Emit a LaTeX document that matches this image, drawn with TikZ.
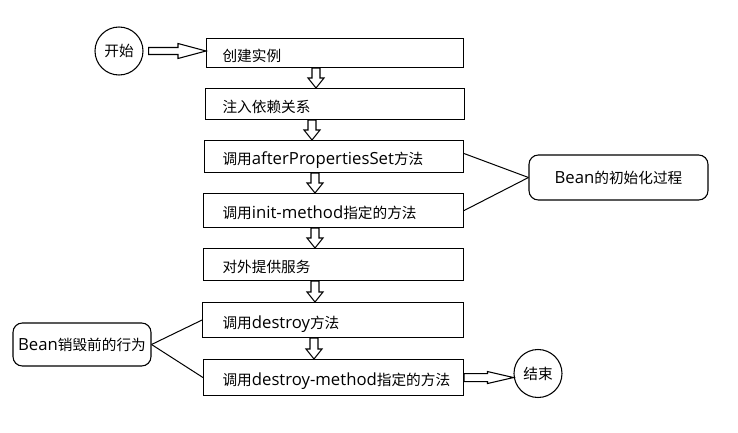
\documentclass[tikz,border=0pt]{standalone}
\usepackage{fontspec}
\setmainfont{Noto Sans CJK SC}
\newfontfamily\lat[Scale=1.14]{Open Sans}
\usetikzlibrary{calc}
\tikzset{
  txt/.style={font=\fontsize{11}{13}\selectfont},
  stepbox/.style={draw, line width=0.8pt, rectangle, anchor=north west, align=left,
    inner ysep=0pt, text height=12pt, text depth=0pt, txt},
  blockarrow/.style={draw, line width=0.8pt, fill=white, line join=miter},
  callout/.style={draw, line width=0.8pt, rounded corners=7pt, inner sep=0pt, txt},
  endpoint/.style={draw, circle, line width=0.8pt, minimum size=36pt, inner sep=0pt, txt},
  link/.style={draw, line width=0.75pt}
}
% down block arrow: #1 x (px), #2 upper node, #3 lower node
\newcommand\dnarrow[3]{%
  \coordinate (ax) at (#1,0);
  \draw[blockarrow] ($(ax |- #2.south)+(-4,0)$) -- ($(ax |- #2.south)+(4,0)$)
    -- ($(ax |- #3.north)+(4,-10)$) -- ($(ax |- #3.north)+(8,-10)$)
    -- (ax |- #3.north) -- ($(ax |- #3.north)+(-8,-10)$)
    -- ($(ax |- #3.north)+(-4,-10)$) -- cycle;}
% right block arrow: #1 from, #2 to, #3 shaft half, #4 head half, #5 head length
\newcommand\rtarrow[5]{%
  \draw[blockarrow] ($(#1)+(0,-#3)$) -- ($(#2)+(-#5,-#3)$) -- ($(#2)+(-#5,-#4)$)
    -- (#2) -- ($(#2)+(-#5,#4)$) -- ($(#2)+(-#5,#3)$) -- ($(#1)+(0,#3)$) -- cycle;}
\begin{document}
\begin{tikzpicture}[x=0.75pt,y=-0.75pt]
\useasboundingbox (0,0) rectangle (738,432);
\fill[white] (0,0) rectangle (738,432);

\node[endpoint] (startc) at (119,51) {开始};

\node[stepbox, inner xsep=12pt,   text width=168.75pt, minimum height=21.75pt] (b1) at (206,38) {\mbox{创建实例}};
\node[stepbox, inner xsep=12.75pt, text width=168.75pt, minimum height=23.25pt] (b2) at (205,88) {\mbox{注入依赖关系}};
\node[stepbox, inner xsep=13.5pt, text width=167.25pt, minimum height=24pt] (b3) at (204,140) {\mbox{调用{\lat afterPropertiesSet}方法}};
\node[stepbox, inner xsep=14.25pt, text width=166.5pt, minimum height=25.5pt] (b4) at (203,193) {\mbox{调用{\lat init-method}指定的方法}};
\node[stepbox, inner xsep=14.25pt, text width=166.5pt, minimum height=24pt] (b5) at (203,248) {\mbox{对外提供服务}};
\node[stepbox, inner xsep=15pt,   text width=165.75pt, minimum height=26.25pt] (b6) at (202,302) {\mbox{调用{\lat destroy}方法}};
\node[stepbox, inner xsep=14.25pt, text width=166.5pt, minimum height=27pt] (b7) at (203,359) {\mbox{调用{\lat destroy-method}指定的方法}};

\node[callout, minimum width=134.25pt, minimum height=33.75pt] (init) at (618.5,177.5) {{\lat Bean}的初始化过程};
\node[callout, minimum width=103.5pt, minimum height=32.25pt] (destroy) at (82,344.5) {{\lat Bean}销毁前的行为};

\node[endpoint] (endc) at (538,373.5) {结束};

% connectors
\coordinate (sa) at ($(startc.east)+(5,0)$);
\coordinate (sb) at (b1.west |- sa);
\rtarrow{sa}{sb}{3.5}{7.5}{28}

\dnarrow{316}{b1}{b2}
\dnarrow{312}{b2}{b3}
\dnarrow{315}{b3}{b4}
\dnarrow{315}{b4}{b5}
\dnarrow{315}{b5}{b6}
\dnarrow{314}{b6}{b7}

\coordinate (ea) at (b7.east);
\coordinate (eb) at (endc.west |- ea);
\rtarrow{ea}{eb}{4}{6}{26}

\draw[link] ($(b3.east)+(0,-3)$) -- (init.west);
\draw[link] (b4.east) -- (init.west);
\draw[link] (destroy.east) -- (b6.west);
\draw[link] (destroy.east) -- (b7.west);
\end{tikzpicture}
\end{document}
